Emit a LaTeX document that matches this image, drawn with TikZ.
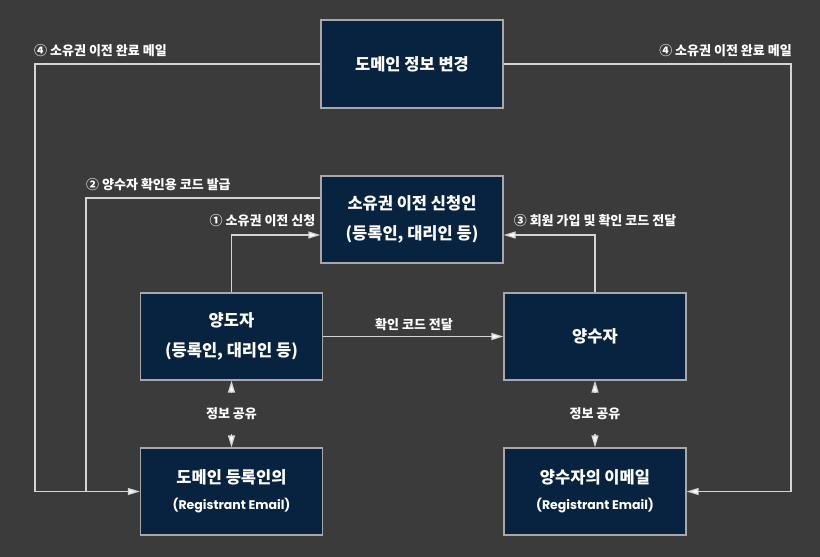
\documentclass[tikz,border=0pt]{standalone}
\usepackage{fontspec}
\setmainfont{Noto Sans CJK KR}
\newfontfamily\latinfont{Poppins}
\usetikzlibrary{arrows.meta}
\definecolor{bg}{HTML}{3B3B3B}
\definecolor{boxfill}{HTML}{082340}
\definecolor{boxline}{HTML}{A8A8A8}
\definecolor{conn}{HTML}{D4D4D4}
\begin{document}
\begin{tikzpicture}[x=1pt,y=-1pt,
  box/.style={draw=boxline, line width=1.3pt, fill=boxfill, text=white,
    minimum width=182pt, minimum height=87pt, inner sep=0pt, align=center,
    font=\bfseries\fontsize{16.5}{30}\selectfont},
  wire/.style={draw=conn, line width=1.3pt},
  arr/.style={wire, -{Triangle[length=12pt,width=7pt,fill=white]}},
  lab/.style={text=white, inner sep=0pt, font=\bfseries\fontsize{13}{15}\selectfont},
  email/.style={}]
\fill[bg] (0,0) rectangle (820,557);
\useasboundingbox (0,0) rectangle (820,557);

\node[box, minimum height=88pt] (top) at (412,64) {도메인 정보 변경};
\node[box] (app) at (412,219.5) {소유권 이전 신청인\\(등록인, 대리인 등)};
\node[box] (give) at (231.5,336.5) {양도자\\(등록인, 대리인 등)};
\node[box] (recv) at (595,336.5) {양수자};
\node[box] (reg) at (231.5,491.5) {도메인 등록인의\\[-4pt]{\latinfont\bfseries\fontsize{12.5}{14}\selectfont (Registrant Email)}};
\node[box] (mail) at (595,491.5) {양수자의 이메일\\[-4pt]{\latinfont\bfseries\fontsize{12.5}{14}\selectfont (Registrant Email)}};

\coordinate (yA) at (0,235);
\coordinate (yB) at (0,198);
\coordinate (cL) at (35,64);
\coordinate (cR) at (791,64);
\coordinate (cM) at (86,198);
\coordinate (cMend) at (86,492);

% 4 left and right
\draw[arr] (top.west) -- (cL) |- (reg.west);
\draw[arr] (top.east) -- (cR) |- (mail.east);
% 2
\draw[wire] (app.west|-yB) -- (cM) -- (cMend);
% 1 and 3
\draw[arr] (give.north) |- (app.west|-yA);
\draw[arr] (recv.north) |- (app.east|-yA);
% code transfer
\draw[arr] (give.east) -- (recv.west);
% info share (arrowheads only)
\draw[arr] ([yshift=-12pt]give.south) -- (give.south);
\draw[arr] ([yshift=13pt]reg.north) -- (reg.north);
\draw[arr] ([yshift=-12pt]recv.south) -- (recv.south);
\draw[arr] ([yshift=13pt]mail.north) -- (mail.north);

\node[lab, anchor=west] (l4a) at (34,51) {④ 소유권 이전 완료 메일};
\node[lab, anchor=east] (l4b) at (792,51) {④ 소유권 이전 완료 메일};
\node[lab, anchor=west] (l2) at (86,185) {② 양수자 확인용 코드 발급};
\node[lab] (l1) at (262.5,221) {① 소유권 이전 신청};
\node[lab] (l3) at (595,221) {③ 회원 가입 및 확인 코드 전달};
\node[lab] (lc) at (414,325) {확인 코드 전달};
\node[lab] (ls1) at (231.5,414) {정보 공유};
\node[lab] (ls2) at (595,414) {정보 공유};
\end{tikzpicture}
\end{document}
